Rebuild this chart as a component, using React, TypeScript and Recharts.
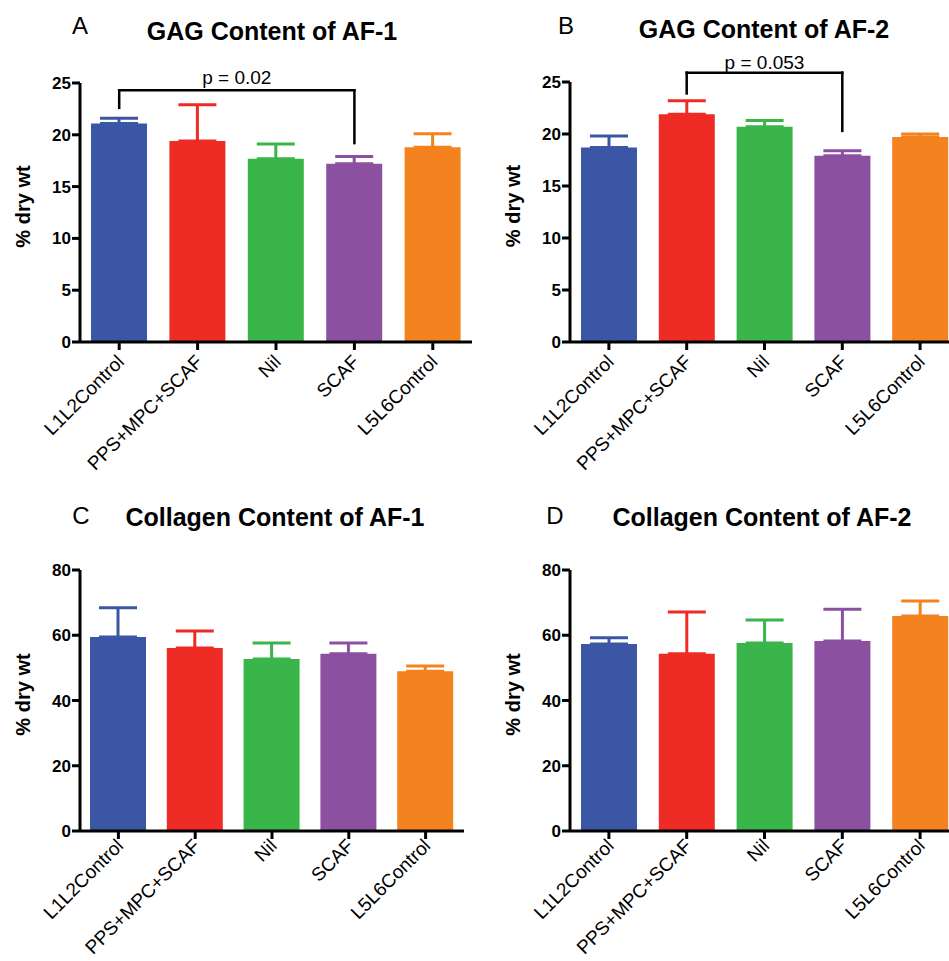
import { BarChart, Bar, Cell, XAxis, YAxis, ErrorBar, ReferenceLine } from "recharts"

const categories = ["L1L2Control", "PPS+MPC+SCAF", "Nil", "SCAF", "L5L6Control"]
const barColors = ["#3B56A5", "#EE2B25", "#3AB54A", "#8B509F", "#F3821F"]

// mean and upper error (SEM), % dry wt
const gagAf1Mean = [21.1, 19.4, 17.7, 17.2, 18.8]
const gagAf1Err = [0.5, 3.5, 1.4, 0.7, 1.3]
const gagAf2Mean = [18.7, 21.9, 20.7, 17.9, 19.7]
const gagAf2Err = [1.1, 1.3, 0.6, 0.5, 0.3]
const colAf1Mean = [59.5, 56.1, 52.7, 54.3, 49.0]
const colAf1Err = [8.9, 5.2, 4.9, 3.3, 1.6]
const colAf2Mean = [57.3, 54.3, 57.6, 58.2, 65.9]
const colAf2Err = [1.9, 12.8, 7.1, 9.8, 4.6]

const gagTicks = [0, 5, 10, 15, 20, 25]
const colTicks = [0, 20, 40, 60, 80]

type Bracket = {
  from: string
  to: string
  fromY: number
  toY: number
  top: number
  text: string
}

const gagAf1Bracket: Bracket = {
  from: "L1L2Control",
  to: "SCAF",
  fromY: 22.6,
  toY: 19.2,
  top: 24.3,
  text: "p = 0.02",
}
const gagAf2Bracket: Bracket = {
  from: "PPS+MPC+SCAF",
  to: "SCAF",
  fromY: 23.9,
  toY: 20.3,
  top: 25.9,
  text: "p = 0.053",
}

const FONT = '"Liberation Sans", Arial, sans-serif'

const buildRows = (means: number[], errs: number[]) =>
  categories.map((name, i) => {
    const row: Record<string, any> = { name, value: means[i] }
    row[`err${i}`] = [0, errs[i]]
    return row
  })

const XTick = (props: any) => {
  const { x, y, payload, shift } = props
  const ax = x + 6
  const ay = y + shift
  return (
    <text
      x={ax}
      y={ay}
      textAnchor="end"
      transform={`rotate(-45, ${ax}, ${ay})`}
      fontSize={19}
      fill="#000"
      fontFamily={FONT}
    >
      {payload.value}
    </text>
  )
}

const yTitle = (props: any) => {
  const vb = props.viewBox || {}
  const cx = vb.x + vb.width - 57
  const cy = vb.y + vb.height / 2 - 6
  return (
    <text
      x={cx}
      y={cy}
      transform={`rotate(-90, ${cx}, ${cy})`}
      textAnchor="middle"
      dominantBaseline="central"
      fontSize={20}
      fontWeight="bold"
      fill="#000"
      fontFamily={FONT}
    >
      % dry wt
    </text>
  )
}

interface PanelProps {
  left: number
  top: number
  width: number
  height: number
  margin: { top: number; right: number; bottom: number; left: number }
  ticks: number[]
  means: number[]
  errs: number[]
  bracket?: Bracket
  labelOffset?: number
  tickShift?: number
}

function Panel({
  left,
  top,
  width,
  height,
  margin,
  ticks,
  means,
  errs,
  bracket,
  labelOffset = 6,
  tickShift = 11,
}: PanelProps) {
  const rows = buildRows(means, errs)
  const axisStroke = { stroke: "#000", strokeWidth: 3 }
  return (
    <div style={{ position: "absolute", left, top }}>
      <BarChart width={width} height={height} data={rows} margin={margin} barSize={56}>
        <XAxis
          dataKey="name"
          height={128}
          interval={0}
          axisLine={axisStroke}
          tickLine={axisStroke}
          tickSize={8}
          tick={(p: any) => <XTick {...p} shift={tickShift} />}
        />
        <YAxis
          domain={[0, ticks[ticks.length - 1]]}
          ticks={ticks}
          allowDataOverflow
          width={60}
          axisLine={axisStroke}
          tickLine={axisStroke}
          tickSize={8}
          tickMargin={1}
          tick={{ fill: "#000", fontSize: 17, fontWeight: "bold" }}
          label={yTitle}
        />
        <Bar dataKey="value" isAnimationActive={false}>
          {means.map((_, i) => (
            <Cell key={i} fill={barColors[i]} />
          ))}
          {means.map((_, i) => (
            <ErrorBar
              key={`e${i}`}
              dataKey={`err${i}`}
              direction="y"
              width={19}
              strokeWidth={3}
              stroke={barColors[i]}
              isAnimationActive={false}
            />
          ))}
        </Bar>
        {bracket && (
          <ReferenceLine
            segment={[
              { x: bracket.from, y: bracket.fromY },
              { x: bracket.from, y: bracket.top },
            ]}
            stroke="#000"
            strokeWidth={2.5}
            strokeLinecap="square"
            ifOverflow="visible"
          />
        )}
        {bracket && (
          <ReferenceLine
            segment={[
              { x: bracket.from, y: bracket.top },
              { x: bracket.to, y: bracket.top },
            ]}
            stroke="#000"
            strokeWidth={2.5}
            strokeLinecap="square"
            ifOverflow="visible"
            label={{ value: bracket.text, position: "top", offset: labelOffset, fill: "#000", fontSize: 19 }}
          />
        )}
        {bracket && (
          <ReferenceLine
            segment={[
              { x: bracket.to, y: bracket.top },
              { x: bracket.to, y: bracket.toY },
            ]}
            stroke="#000"
            strokeWidth={2.5}
            strokeLinecap="square"
            ifOverflow="visible"
          />
        )}
      </BarChart>
    </div>
  )
}

const titleStyle = (cx: number, top: number): React.CSSProperties => ({
  position: "absolute",
  left: cx - 200,
  top,
  width: 400,
  textAlign: "center",
  fontSize: 25,
  fontWeight: "bold",
  lineHeight: 1,
  color: "#000",
})

const letterStyle = (cx: number, top: number): React.CSSProperties => ({
  position: "absolute",
  left: cx - 20,
  top,
  width: 40,
  textAlign: "center",
  fontSize: 24,
  lineHeight: 1,
  color: "#000",
})

export default function App() {
  return (
    <div
      style={{
        position: "absolute",
        left: 0,
        top: 0,
        width: 949,
        height: 961,
        overflow: "hidden",
        background: "#fff",
        fontFamily: FONT,
      }}
    >
      <div style={letterStyle(80, 14)}>A</div>
      <div style={titleStyle(272, 19)}>GAG Content of AF-1</div>
      <div style={letterStyle(566, 14)}>B</div>
      <div style={titleStyle(764, 17)}>GAG Content of AF-2</div>
      <div style={letterStyle(81, 504)}>C</div>
      <div style={titleStyle(275, 505)}>Collagen Content of AF-1</div>
      <div style={letterStyle(555, 504)}>D</div>
      <div style={titleStyle(762, 505)}>Collagen Content of AF-2</div>

      <Panel
        left={0}
        top={0}
        width={475}
        height={500}
        margin={{ top: 83, right: 3, bottom: 30, left: 20 }}
        ticks={gagTicks}
        means={gagAf1Mean}
        errs={gagAf1Err}
        bracket={gagAf1Bracket}
        labelOffset={6}
      />
      <Panel
        left={475}
        top={0}
        width={486}
        height={500}
        margin={{ top: 82, right: 2, bottom: 30, left: 35 }}
        ticks={gagTicks}
        means={gagAf2Mean}
        errs={gagAf2Err}
        bracket={gagAf2Bracket}
        labelOffset={4}
      />
      <Panel
        left={0}
        top={480}
        width={475}
        height={481}
        margin={{ top: 90, right: 11, bottom: 2, left: 20 }}
        ticks={colTicks}
        means={colAf1Mean}
        errs={colAf1Err}
        tickShift={6}
      />
      <Panel
        left={475}
        top={480}
        width={486}
        height={481}
        margin={{ top: 90, right: 2, bottom: 2, left: 35 }}
        ticks={colTicks}
        means={colAf2Mean}
        errs={colAf2Err}
        tickShift={6}
      />
    </div>
  )
}
